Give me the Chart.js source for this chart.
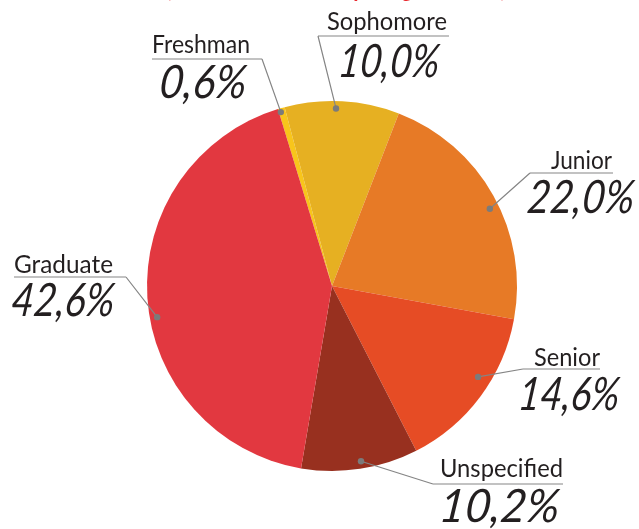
<!DOCTYPE html>
<html>
<head>
<meta charset="utf-8">
<script src="https://cdn.jsdelivr.net/npm/chart.js@4.4.1/dist/chart.umd.min.js"></script>
<style>
  html, body { margin: 0; padding: 0; background: #ffffff; }
  #wrap { width: 639px; height: 529px; position: relative; }
</style>
</head>
<body>
<div id="wrap"><canvas id="c" width="639" height="529"></canvas></div>
<script>
// ---- data ----
const categories = ["Freshman", "Sophomore", "Junior", "Senior", "Unspecified", "Graduate"];
const shares = [0.6, 10.0, 22.0, 14.6, 10.2, 42.6];
const sliceColors = ["#F8C51B", "#E6B022", "#E77A26", "#E64C25", "#98301F", "#E23840"];
const titleText = "(Count of members per age bracket)";

// ---- label layout (positions only) ----
const labelLayout = [
  { name: {x: 152, y: 53, w: 98},  pct: {x: 158, y: 98, w: 87},  line: {x1: 152, x2: 262, y: 59, anchor: "right"}, dot: {deg: 343.6, r: 0.98} },
  { name: {x: 327, y: 30, w: 120}, pct: {x: 337, y: 77, w: 101}, line: {x1: 318, x2: 449, y: 36, anchor: "left"},  dot: {deg: 1.3,   r: 0.96} },
  { name: {x: 551, y: 169, w: 61}, pct: {x: 526, y: 213, w: 107}, line: {x1: 530, x2: 613, y: 173, anchor: "left"}, dot: {deg: 63.9,  r: 0.95} },
  { name: {x: 534, y: 366, w: 66}, pct: {x: 517, y: 410, w: 101}, line: {x1: 523, x2: 600, y: 369, anchor: "left"}, dot: {deg: 121.9, r: 0.93} },
  { name: {x: 440, y: 477, w: 123}, pct: {x: 438, y: 522, w: 120}, line: {x1: 433, x2: 563, y: 484, anchor: "left"}, dot: {deg: 170.6, r: 0.96} },
  { name: {x: 14, y: 273, w: 99},  pct: {x: 10, y: 316, w: 103}, line: {x1: 14, x2: 126, y: 277, anchor: "right"},  dot: {deg: 259.9, r: 0.96} }
];

function fitText(ctx, text, x, y, w, font, skew) {
  ctx.save();
  ctx.font = font;
  const m = ctx.measureText(text).width;
  ctx.translate(x, y);
  if (skew) ctx.transform(1, 0, skew, 1, 0, 0);
  ctx.scale(w / m, 1);
  ctx.fillText(text, 0, 0);
  ctx.restore();
}

const labelPlugin = {
  id: "leaderLabels",
  afterDatasetsDraw(chart) {
    const ctx = chart.ctx;
    const meta = chart.getDatasetMeta(0);
    const arc0 = meta.data[0];
    const cx = arc0.x, cy = arc0.y, R = arc0.outerRadius;
    ctx.save();
    ctx.textBaseline = "alphabetic";
    ctx.textAlign = "left";
    categories.forEach((cat, i) => {
      const L = labelLayout[i];
      const a = (L.dot.deg - 90) * Math.PI / 180;
      const dx = cx + Math.cos(a) * R * L.dot.r;
      const dy = cy + Math.sin(a) * R * L.dot.r;
      const ax = L.line.anchor === "left" ? L.line.x1 : L.line.x2;
      ctx.strokeStyle = "#858585";
      ctx.lineWidth = 1.2;
      ctx.beginPath();
      ctx.moveTo(L.line.x1, L.line.y);
      ctx.lineTo(L.line.x2, L.line.y);
      ctx.moveTo(ax, L.line.y);
      ctx.lineTo(dx, dy);
      ctx.stroke();
      ctx.fillStyle = "#7b7b7b";
      ctx.beginPath();
      ctx.arc(dx, dy, 3.2, 0, Math.PI * 2);
      ctx.fill();
      ctx.fillStyle = "#231F20";
      fitText(ctx, cat, L.name.x, L.name.y, L.name.w, "400 25px Lato, 'Open Sans', sans-serif");
      const pct = shares[i].toFixed(1).replace(".", ",") + "%";
      fitText(ctx, pct, L.pct.x, L.pct.y, L.pct.w, "italic 400 46px Lato, 'DejaVu Sans', sans-serif", -0.12);
    });
    // partially visible red title at very top
    ctx.fillStyle = "#E8282E";
    fitText(ctx, titleText, 166, -4, 340, "bold 30px Lato, sans-serif");
    ctx.restore();
  }
};

new Chart(document.getElementById("c"), {
  type: "pie",
  data: {
    labels: categories,
    datasets: [{
      data: shares,
      backgroundColor: sliceColors,
      borderWidth: 0
    }]
  },
  options: {
    responsive: false,
    animation: false,
    rotation: -17,
    layout: { padding: { left: 147, right: 122, top: 101, bottom: 58 } },
    plugins: { legend: { display: false }, tooltip: { enabled: false }, title: { display: false } }
  },
  plugins: [labelPlugin]
});
</script>
</body>
</html>
